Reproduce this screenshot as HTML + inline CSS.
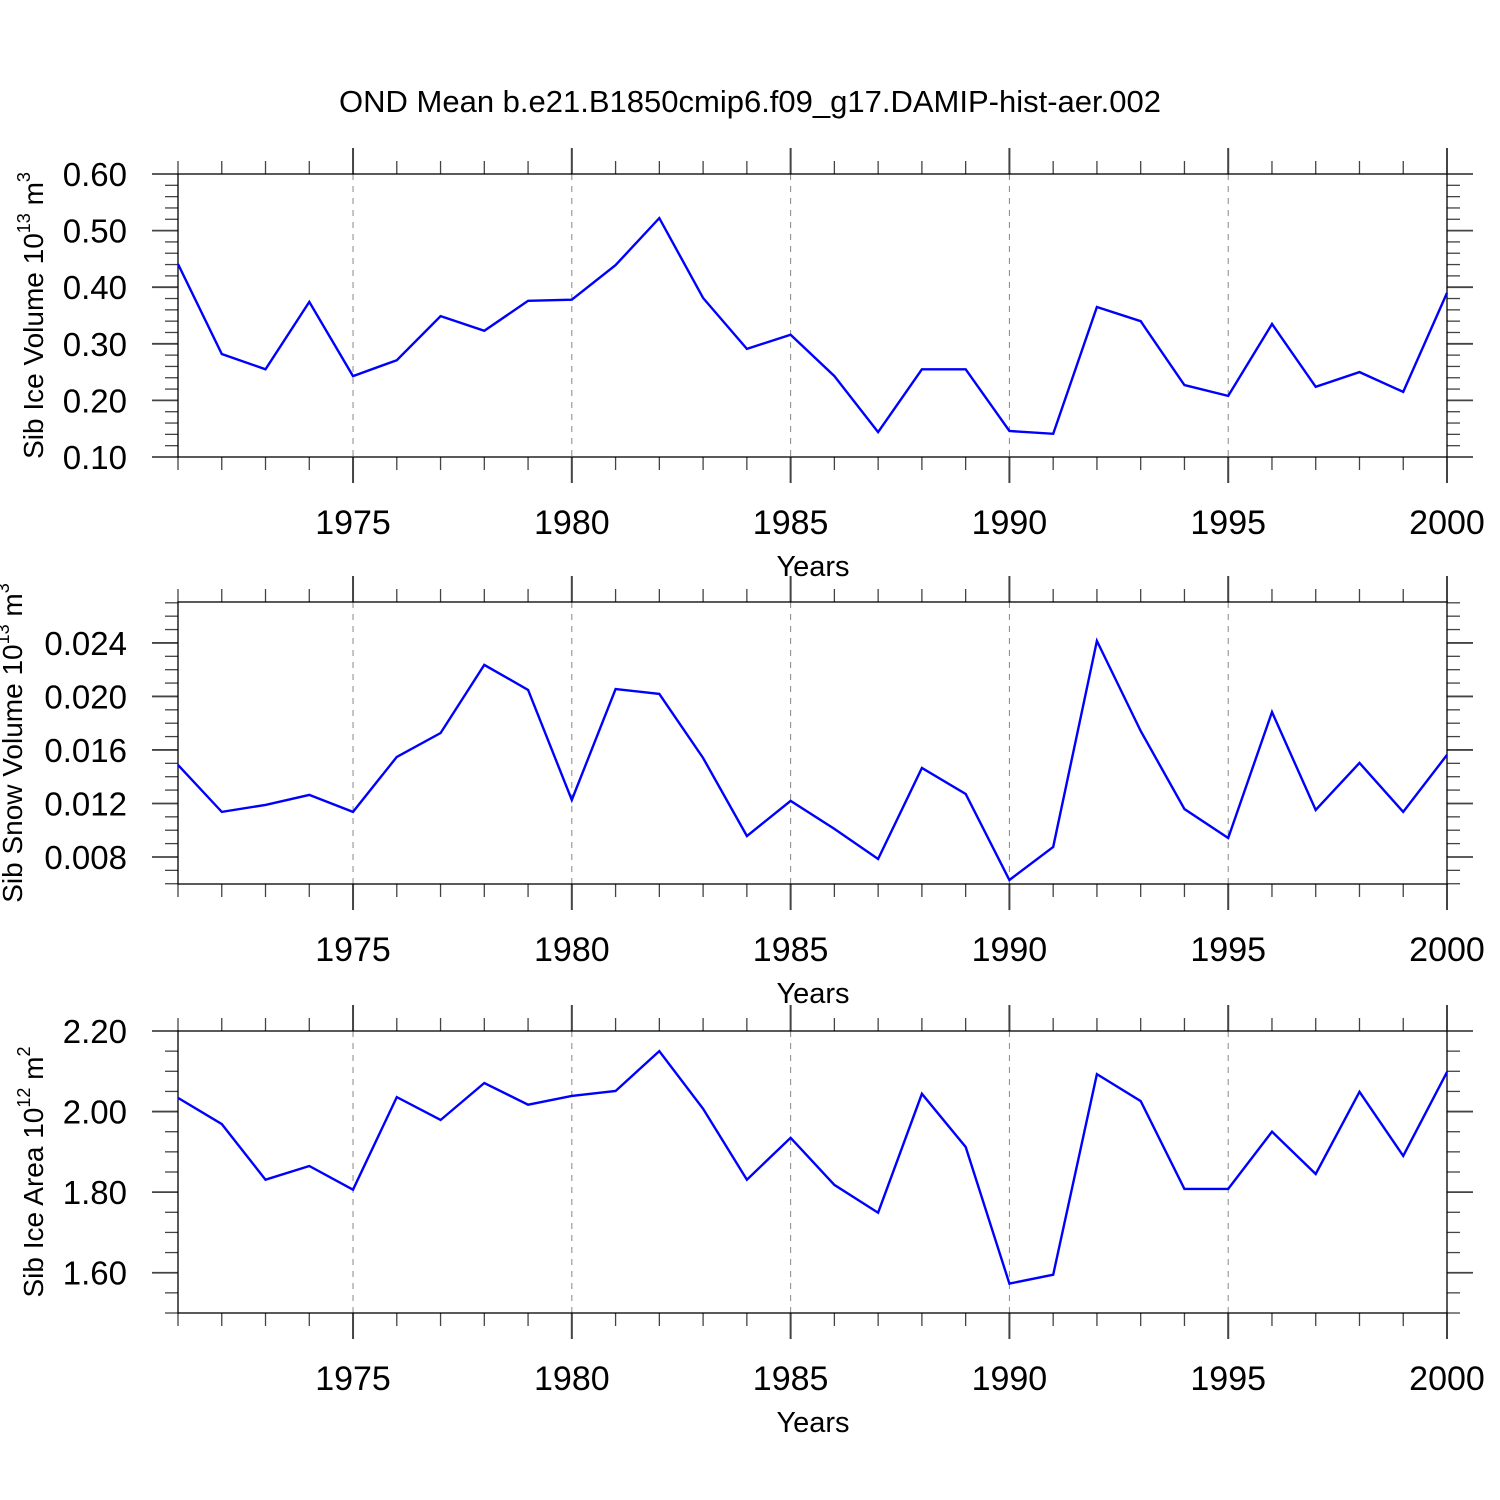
<!DOCTYPE html>
<html><head><meta charset="utf-8"><style>
html,body{margin:0;padding:0;background:#fff;}
svg{display:block;font-family:"Liberation Sans",sans-serif;}
</style></head><body>
<svg id="chart" width="1500" height="1500" viewBox="0 0 1500 1500" xmlns="http://www.w3.org/2000/svg">
<text x="750" y="112" font-size="31" text-anchor="middle">OND Mean b.e21.B1850cmip6.f09_g17.DAMIP-hist-aer.002</text>
</svg>
<script>
const years = [1971,1972,1973,1974,1975,1976,1977,1978,1979,1980,1981,1982,1983,1984,1985,1986,1987,1988,1989,1990,1991,1992,1993,1994,1995,1996,1997,1998,1999,2000];
const iceVolume = [0.441,0.282,0.255,0.374,0.243,0.271,0.349,0.323,0.376,0.378,0.439,0.522,0.381,0.291,0.316,0.243,0.144,0.255,0.255,0.146,0.141,0.365,0.340,0.227,0.208,0.335,0.224,0.250,0.215,0.390];
const snowVolume = [0.01488,0.01137,0.01189,0.01264,0.01137,0.01548,0.01727,0.02236,0.02049,0.01226,0.02056,0.02019,0.01540,0.00957,0.01219,0.01010,0.00785,0.01465,0.01271,0.00628,0.00875,0.02415,0.01742,0.01159,0.00942,0.01884,0.01151,0.01503,0.01137,0.01563];
const iceArea = [2.034,1.969,1.831,1.865,1.806,2.036,1.979,2.071,2.017,2.039,2.051,2.150,2.007,1.831,1.935,1.818,1.749,2.044,1.912,1.573,1.595,2.093,2.026,1.808,1.808,1.950,1.845,2.049,1.890,2.098];
const xTickLabels = ["1975","1980","1985","1990","1995","2000"];
const iceVolTicks = ["0.10","0.20","0.30","0.40","0.50","0.60"];
const snowTicks = ["0.008","0.012","0.016","0.020","0.024"];
const areaTicks = ["1.60","1.80","2.00","2.20"];

const NS="http://www.w3.org/2000/svg";
const svg=document.getElementById('chart');
function mk(tag,attrs,parent){const e=document.createElementNS(NS,tag);for(const k in attrs)e.setAttribute(k,attrs[k]);(parent||svg).appendChild(e);return e;}
const X0=178,X1=1447,XMIN=1971,XMAX=2000;
function xs(v){return X0+(v-XMIN)/(XMAX-XMIN)*(X1-X0);}

const panels=[
 {name:'ice-volume',top:174,bot:457,ymin:0.10,ymax:0.60,data:iceVolume,ticks:iceVolTicks,minor:0.02,title:'Sib Ice Volume 10',sup:'13',unit:' m',usup:'3',tx:43},
 {name:'snow-volume',top:602,bot:884,ymin:0.00598,ymax:0.02706,data:snowVolume,ticks:snowTicks,minor:0.001,title:'Sib Snow Volume 10',sup:'13',unit:' m',usup:'3',tx:22},
 {name:'ice-area',top:1031,bot:1313,ymin:1.50,ymax:2.20,data:iceArea,ticks:areaTicks,minor:0.05,title:'Sib Ice Area 10',sup:'12',unit:' m',usup:'2',tx:43}
];

panels.forEach(p=>{
 const g=mk('g',{});
 
 
 const ys=v=>p.bot-(v-p.ymin)/(p.ymax-p.ymin)*(p.bot-p.top);
 xTickLabels.forEach(t=>{const v=+t;if(v<XMAX){const l=mk('line',{x1:xs(v),x2:xs(v),y1:p.top,y2:p.bot,stroke:'#888','stroke-width':1,'stroke-dasharray':'6,6'},g);
  
  }});
 years.forEach(yr=>{const major=(yr%5===0);const len=major?26:13;const x=xs(yr);
  mk('line',{x1:x,x2:x,y1:p.top-len,y2:p.top,stroke:'#444','stroke-width':major?2:1.3},g);
  mk('line',{x1:x,x2:x,y1:p.bot,y2:p.bot+len,stroke:'#444','stroke-width':major?2:1.3},g);});
 const start=Math.ceil(p.ymin/p.minor-1e-6)*p.minor;
 for(let v=start;v<=p.ymax+1e-9;v+=p.minor){
  const y=ys(v);
  const major=p.ticks.some(t=>Math.abs(+t-v)<p.minor/10);
  const len=major?26:13;
  mk('line',{x1:X0-len,x2:X0,y1:y,y2:y,stroke:'#444','stroke-width':major?1.8:1.3},g);
  mk('line',{x1:X1,x2:X1+len,y1:y,y2:y,stroke:'#444','stroke-width':major?1.8:1.3},g);
 }
 const fr=mk('rect',{x:X0,y:p.top,width:X1-X0,height:p.bot-p.top,fill:'none',stroke:'#000','stroke-width':1.3},g);
 
 
 p.ticks.forEach(t=>{const tx=mk('text',{x:127,y:ys(+t)+12,'font-size':33,'text-anchor':'end'},g);tx.textContent=t;
  
  });
 xTickLabels.forEach(t=>{const tx=mk('text',{x:xs(+t),y:p.bot+77,'font-size':34,'text-anchor':'middle'},g);tx.textContent=t;
  
  });
 const xt=mk('text',{x:813,y:p.bot+119,'font-size':29,'text-anchor':'middle'},g);xt.textContent='Years';
 
 
 const cy=(p.top+p.bot)/2;
 const yt=mk('text',{x:0,y:0,'font-size':28,'text-anchor':'middle',transform:`translate(${p.tx},${cy}) rotate(-90)`},g);
 
 
 const a=mk('tspan',{},yt);a.textContent=p.title;
 const b=mk('tspan',{dy:-13,'font-size':18},yt);b.textContent=p.sup;
 const c=mk('tspan',{dy:13},yt);c.textContent=p.unit;
 const d=mk('tspan',{dy:-13,'font-size':18},yt);d.textContent=p.usup;
 const pts=p.data.map((v,i)=>xs(years[i]).toFixed(1)+','+ys(v).toFixed(1)).join(' ');
 const pl=mk('polyline',{points:pts,fill:'none',stroke:'#0000ff','stroke-width':2.4,'stroke-linejoin':'miter'},g);
 
 
});
</script>
</body></html>
